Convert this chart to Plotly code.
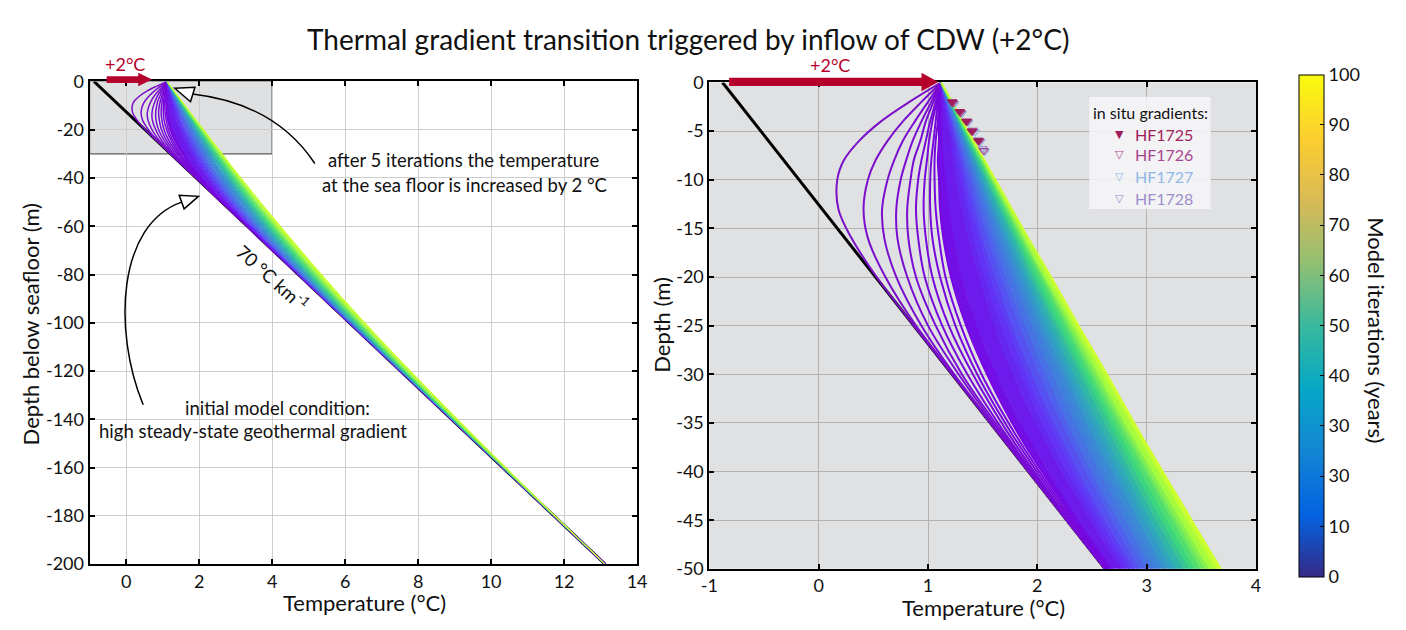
import plotly.graph_objects as go
from plotly.colors import sample_colorscale

W, H = 1406, 630

# ---------------- data ----------------
# depth below seafloor (m) at which each model profile is sampled
DEPTH = [0, -2, -4, -6, -8, -10, -13, -16, -20, -25, -30, -36, -43, -50,
         -60, -75, -90, -110, -135, -165, -200]

# years after the +2 degC step (model iteration - 5)
YEARS = [1, 2, 3, 4, 5, 6, 7, 8, 9, 10, 12, 14, 16, 18, 20, 23, 26, 29, 32,
         35, 39, 43, 47, 52, 57, 62, 68, 74, 81, 88, 95]

# temperature profiles (degC), one row per entry of YEARS, sampled at DEPTH
PROFILES = [
    [1.12, 0.83, 0.57, 0.37, 0.23, 0.17, 0.18, 0.30, 0.53, 0.87, 1.22, 1.64, 2.13, 2.62, 3.32, 4.37, 5.42, 6.82, 8.57, 10.67, 13.12],
    [1.12, 0.94, 0.77, 0.63, 0.52, 0.45, 0.41, 0.45, 0.61, 0.89, 1.23, 1.64, 2.13, 2.62, 3.32, 4.37, 5.42, 6.82, 8.57, 10.67, 13.12],
    [1.12, 1.00, 0.88, 0.77, 0.69, 0.63, 0.58, 0.60, 0.71, 0.94, 1.24, 1.65, 2.13, 2.62, 3.32, 4.37, 5.42, 6.82, 8.57, 10.67, 13.12],
    [1.12, 1.03, 0.94, 0.86, 0.80, 0.75, 0.71, 0.72, 0.81, 1.00, 1.28, 1.66, 2.13, 2.62, 3.32, 4.37, 5.42, 6.82, 8.57, 10.67, 13.12],
    [1.12, 1.05, 0.98, 0.93, 0.87, 0.84, 0.81, 0.82, 0.89, 1.07, 1.31, 1.68, 2.14, 2.62, 3.32, 4.37, 5.42, 6.82, 8.57, 10.67, 13.12],
    [1.12, 1.07, 1.02, 0.98, 0.94, 0.91, 0.89, 0.91, 0.97, 1.13, 1.36, 1.70, 2.15, 2.63, 3.32, 4.37, 5.42, 6.82, 8.57, 10.67, 13.12],
    [1.12, 1.08, 1.04, 1.01, 0.99, 0.97, 0.96, 0.98, 1.04, 1.19, 1.41, 1.73, 2.16, 2.63, 3.32, 4.37, 5.42, 6.82, 8.57, 10.67, 13.12],
    [1.12, 1.09, 1.07, 1.05, 1.03, 1.02, 1.02, 1.04, 1.11, 1.25, 1.45, 1.76, 2.18, 2.64, 3.32, 4.37, 5.42, 6.82, 8.57, 10.67, 13.12],
    [1.12, 1.10, 1.09, 1.07, 1.06, 1.06, 1.07, 1.10, 1.16, 1.30, 1.49, 1.79, 2.20, 2.65, 3.33, 4.37, 5.42, 6.82, 8.57, 10.67, 13.12],
    [1.12, 1.11, 1.10, 1.10, 1.09, 1.10, 1.11, 1.14, 1.21, 1.35, 1.54, 1.82, 2.22, 2.66, 3.33, 4.37, 5.42, 6.82, 8.57, 10.67, 13.12],
    [1.12, 1.12, 1.13, 1.13, 1.14, 1.16, 1.19, 1.23, 1.30, 1.44, 1.62, 1.89, 2.26, 2.69, 3.34, 4.37, 5.42, 6.82, 8.57, 10.67, 13.12],
    [1.12, 1.15, 1.17, 1.20, 1.22, 1.25, 1.30, 1.36, 1.46, 1.60, 1.77, 2.02, 2.37, 2.76, 3.38, 4.38, 5.42, 6.82, 8.57, 10.67, 13.12],
    [1.12, 1.15, 1.18, 1.22, 1.25, 1.29, 1.35, 1.41, 1.51, 1.66, 1.84, 2.08, 2.42, 2.80, 3.40, 4.39, 5.42, 6.82, 8.57, 10.67, 13.12],
    [1.12, 1.16, 1.20, 1.24, 1.28, 1.32, 1.38, 1.46, 1.56, 1.72, 1.89, 2.14, 2.47, 2.84, 3.43, 4.40, 5.43, 6.82, 8.57, 10.67, 13.12],
    [1.12, 1.16, 1.21, 1.25, 1.30, 1.34, 1.42, 1.49, 1.61, 1.76, 1.94, 2.19, 2.51, 2.88, 3.46, 4.42, 5.43, 6.82, 8.57, 10.67, 13.12],
    [1.12, 1.17, 1.22, 1.27, 1.32, 1.38, 1.45, 1.54, 1.66, 1.83, 2.01, 2.26, 2.58, 2.93, 3.50, 4.44, 5.44, 6.82, 8.57, 10.67, 13.12],
    [1.12, 1.17, 1.23, 1.29, 1.34, 1.40, 1.49, 1.58, 1.71, 1.88, 2.07, 2.31, 2.63, 2.99, 3.54, 4.46, 5.45, 6.83, 8.57, 10.67, 13.12],
    [1.12, 1.18, 1.24, 1.30, 1.37, 1.43, 1.53, 1.62, 1.76, 1.94, 2.13, 2.38, 2.70, 3.05, 3.59, 4.50, 5.47, 6.83, 8.57, 10.67, 13.12],
    [1.12, 1.19, 1.25, 1.32, 1.38, 1.45, 1.55, 1.66, 1.80, 1.99, 2.19, 2.44, 2.76, 3.11, 3.64, 4.53, 5.49, 6.84, 8.57, 10.67, 13.12],
    [1.12, 1.19, 1.26, 1.33, 1.40, 1.47, 1.58, 1.69, 1.84, 2.03, 2.24, 2.49, 2.82, 3.16, 3.69, 4.57, 5.51, 6.85, 8.58, 10.67, 13.12],
    [1.12, 1.20, 1.27, 1.34, 1.42, 1.49, 1.60, 1.72, 1.88, 2.08, 2.29, 2.55, 2.88, 3.22, 3.75, 4.61, 5.55, 6.87, 8.58, 10.67, 13.12],
    [1.12, 1.20, 1.28, 1.35, 1.43, 1.51, 1.63, 1.75, 1.91, 2.12, 2.33, 2.60, 2.93, 3.27, 3.80, 4.65, 5.58, 6.88, 8.59, 10.67, 13.12],
    [1.12, 1.20, 1.28, 1.36, 1.44, 1.53, 1.65, 1.78, 1.94, 2.16, 2.38, 2.65, 2.98, 3.33, 3.85, 4.70, 5.61, 6.90, 8.60, 10.67, 13.12],
    [1.12, 1.20, 1.29, 1.37, 1.46, 1.54, 1.67, 1.80, 1.97, 2.19, 2.42, 2.70, 3.03, 3.38, 3.91, 4.75, 5.65, 6.93, 8.61, 10.68, 13.12],
    [1.12, 1.21, 1.29, 1.38, 1.47, 1.56, 1.69, 1.82, 2.00, 2.23, 2.46, 2.74, 3.08, 3.43, 3.96, 4.80, 5.69, 6.95, 8.62, 10.68, 13.12],
    [1.12, 1.21, 1.30, 1.39, 1.48, 1.57, 1.71, 1.84, 2.03, 2.26, 2.49, 2.78, 3.13, 3.48, 4.01, 4.84, 5.73, 6.99, 8.64, 10.69, 13.12],
    [1.12, 1.21, 1.30, 1.40, 1.49, 1.58, 1.72, 1.86, 2.05, 2.28, 2.52, 2.81, 3.16, 3.52, 4.05, 4.89, 5.77, 7.01, 8.65, 10.69, 13.12],
    [1.12, 1.22, 1.31, 1.40, 1.50, 1.59, 1.73, 1.87, 2.06, 2.31, 2.55, 2.84, 3.20, 3.56, 4.09, 4.93, 5.81, 7.04, 8.67, 10.70, 13.12],
    [1.12, 1.22, 1.31, 1.41, 1.51, 1.60, 1.75, 1.90, 2.09, 2.34, 2.59, 2.89, 3.25, 3.61, 4.15, 4.99, 5.86, 7.09, 8.70, 10.72, 13.12],
    [1.12, 1.22, 1.32, 1.41, 1.51, 1.61, 1.76, 1.91, 2.11, 2.35, 2.61, 2.91, 3.27, 3.64, 4.18, 5.02, 5.89, 7.12, 8.72, 10.72, 13.12],
    [1.12, 1.22, 1.32, 1.42, 1.52, 1.62, 1.77, 1.92, 2.13, 2.38, 2.64, 2.94, 3.31, 3.68, 4.23, 5.07, 5.94, 7.16, 8.76, 10.74, 13.12],
]

# initial steady-state profile (70 degC/km)
INITIAL_TEMP = [-0.88, 13.12]
INITIAL_DEPTH = [0, -200]

# in situ gradient measurements (right panel)
HF1725_T = [1.22, 1.29, 1.35, 1.40, 1.46]
HF1725_D = [-2.0, -3.0, -4.0, -5.0, -6.0]
HF1726_T = [1.23, 1.30, 1.36, 1.41, 1.47, 1.51]
HF1726_D = [-2.1, -3.1, -4.0, -5.0, -6.0, -7.0]
HF1727_T = [1.24, 1.31, 1.37, 1.43, 1.48, 1.52]
HF1727_D = [-2.2, -3.2, -4.1, -5.1, -6.1, -7.1]
HF1728_T = [1.22, 1.29, 1.36, 1.41, 1.46, 1.50]
HF1728_D = [-2.0, -3.0, -4.0, -4.9, -5.9, -6.8]

CB_TICKVALS = [0, 10, 20, 30, 40, 50, 60, 70, 80, 90, 100]
CB_TICKTEXT = ["0", "10", "30", "30", "40", "50", "60", "70", "80", "90", "100"]

LEFT_XTICKS = [0, 2, 4, 6, 8, 10, 12, 14]
LEFT_YTICKS = [0, -20, -40, -60, -80, -100, -120, -140, -160, -180, -200]
RIGHT_XTICKS = [-1, 0, 1, 2, 3, 4]
RIGHT_YTICKS = [0, -5, -10, -15, -20, -25, -30, -35, -40, -45, -50]

# ---------------- styles ----------------
FONT = "Lato, 'Open Sans', sans-serif"
RED = "#b5002c"
CURVE_SCALE = [
    [0.00, "rgb(122,16,200)"],
    [0.10, "rgb(118,5,226)"],
    [0.17, "rgb(100,45,245)"],
    [0.24, "rgb(85,85,242)"],
    [0.32, "rgb(65,125,222)"],
    [0.44, "rgb(46,166,189)"],
    [0.60, "rgb(60,215,125)"],
    [0.85, "rgb(165,251,62)"],
    [1.00, "rgb(205,255,48)"],
]
PARULA = [
    [0.000, "#352a87"], [0.125, "#0363e1"], [0.250, "#1485d4"],
    [0.375, "#06a7c6"], [0.500, "#38b99e"], [0.625, "#92bf73"],
    [0.750, "#d9ba56"], [0.875, "#fcce2e"], [1.000, "#f9fb0e"],
]
FILL_FROM_YEAR = 12


def px(x):
    return x / W


def py(y):
    return 1 - y / H


def tick_text(vals):
    return [str(v) for v in vals]


COLORS = [sample_colorscale(CURVE_SCALE, [(t - 1) / 94.0])[0] for t in YEARS]

fig = go.Figure()

for xa, ya, lw_early, lw_late in [("x", "y", 1.5, 1.0), ("x2", "y2", 2.0, 1.4)]:
    fig.add_trace(go.Scatter(x=INITIAL_TEMP, y=INITIAL_DEPTH, mode="lines",
                             line=dict(color="black", width=3),
                             xaxis=xa, yaxis=ya, showlegend=False, hoverinfo="skip"))
    # colour bands between successive profiles
    for k in range(1, len(YEARS)):
        if YEARS[k] < FILL_FROM_YEAR:
            continue
        fig.add_trace(go.Scatter(
            x=PROFILES[k] + PROFILES[k - 1][::-1], y=DEPTH + DEPTH[::-1],
            mode="lines", fill="toself", fillcolor=COLORS[k],
            line=dict(width=0, color=COLORS[k]),
            xaxis=xa, yaxis=ya, showlegend=False, hoverinfo="skip"))
    # profile lines
    for k, (t, prof) in enumerate(zip(YEARS, PROFILES)):
        fig.add_trace(go.Scatter(
            x=prof, y=DEPTH, mode="lines",
            line=dict(color=COLORS[k], width=lw_late if t >= FILL_FROM_YEAR else lw_early,
                      shape="spline", smoothing=1.0),
            xaxis=xa, yaxis=ya, showlegend=False, hoverinfo="skip"))

# in situ markers
for T, D, sym, col in [
    (HF1728_T, HF1728_D, "triangle-down-open", "#9d8fcc"),
    (HF1727_T, HF1727_D, "triangle-down-open", "#8fb8e8"),
    (HF1726_T, HF1726_D, "triangle-down-open", "#a8458f"),
    (HF1725_T, HF1725_D, "triangle-down", "#a01d5c"),
]:
    fig.add_trace(go.Scatter(x=T, y=D, mode="markers", xaxis="x2", yaxis="y2",
                             marker=dict(symbol=sym, size=8, color=col,
                                         line=dict(color=col, width=1.2)),
                             showlegend=False, hoverinfo="skip"))

# colorbar carrier
fig.add_trace(go.Scatter(
    x=[10], y=[10], mode="markers", xaxis="x2", yaxis="y2", showlegend=False,
    hoverinfo="skip",
    marker=dict(size=1, opacity=0, color=[0], cmin=0, cmax=100, colorscale=PARULA,
                showscale=True,
                colorbar=dict(x=px(1308), xanchor="left", y=py(585), yanchor="bottom",
                              len=520 / H, lenmode="fraction", thickness=25,
                              thicknessmode="pixels", outlinewidth=1, outlinecolor="black",
                              tickvals=CB_TICKVALS, ticktext=CB_TICKTEXT,
                              ticks="inside", ticklen=4, tickcolor="black",
                              tickfont=dict(size=18, color="#111"), xpad=0, ypad=0))))

axis_common = dict(showline=True, linecolor="black", linewidth=2, mirror="ticks",
                   ticks="inside", ticklen=5, tickwidth=1.5, tickcolor="black",
                   zeroline=False, showgrid=True, gridwidth=1,
                   tickfont=dict(size=18, color="#111"))

fig.update_layout(
    width=W, height=H, margin=dict(l=0, r=0, t=0, b=0),
    paper_bgcolor="white", plot_bgcolor="white",
    font=dict(family=FONT, color="#111"),
    xaxis=dict(domain=[px(81.7), px(636.7)], range=[-1, 14], anchor="y",
               tickvals=LEFT_XTICKS, ticktext=tick_text(LEFT_XTICKS),
               gridcolor="#cdcdcd", **axis_common),
    yaxis=dict(domain=[py(572), py(72)], range=[-200, 0], anchor="x",
               tickvals=LEFT_YTICKS, ticktext=tick_text(LEFT_YTICKS),
               gridcolor="#cdcdcd", **axis_common),
    xaxis2=dict(domain=[px(710), px(1264)], range=[-1, 4], anchor="y2",
                tickvals=RIGHT_XTICKS, ticktext=tick_text(RIGHT_XTICKS),
                gridcolor="#b3b3b3", **axis_common),
    yaxis2=dict(domain=[py(577), py(73)], range=[-50, 0], anchor="x2",
                tickvals=RIGHT_YTICKS, ticktext=tick_text(RIGHT_YTICKS),
                gridcolor="#b3b3b3", **axis_common),
)

shapes = []
# right panel grey background
shapes.append(dict(type="rect", xref="x2 domain", yref="y2 domain", x0=0, x1=1, y0=0, y1=1,
                   fillcolor="#e0e1e3", line=dict(width=0), layer="below"))
# zoom box in left panel
shapes.append(dict(type="rect", xref="x", yref="y", x0=-1, x1=4, y0=-30, y1=0,
                   fillcolor="#dfe0e2", line=dict(color="#5a5a5a", width=1.2), layer="below"))
# red +2 degC arrows
for (s0, s1, h0, tip, yc, sh, hh) in [(99, 133, 131, 145, 70, 3.5, 7), (730, 928, 925, 942, 72.5, 4.3, 9.5)]:
    shapes.append(dict(type="rect", xref="paper", yref="paper", x0=px(s0), x1=px(s1),
                       y0=py(yc + sh), y1=py(yc - sh), fillcolor=RED, line=dict(width=0)))
    shapes.append(dict(type="path", xref="paper", yref="paper",
                       path=f"M {px(h0)},{py(yc - hh)} L {px(tip)},{py(yc)} L {px(h0)},{py(yc + hh)} Z",
                       fillcolor=RED, line=dict(width=0)))
# curved annotation arrows
shapes.append(dict(type="path", xref="paper", yref="paper",
                   path=f"M {px(310)},{py(157)} Q {px(270)},{py(95)} {px(186)},{py(85)}",
                   line=dict(color="black", width=1.5)))
shapes.append(dict(type="path", xref="paper", yref="paper",
                   path=f"M {px(168)},{py(79)} L {px(188.5)},{py(78)} L {px(184)},{py(93)} Z",
                   fillcolor="white", line=dict(color="black", width=1.5)))
shapes.append(dict(type="path", xref="paper", yref="paper",
                   path=f"M {px(136)},{py(407)} C {px(105)},{py(330)} {px(110)},{py(220)} {px(175)},{py(197)}",
                   line=dict(color="black", width=1.5)))
shapes.append(dict(type="path", xref="paper", yref="paper",
                   path=f"M {px(192)},{py(191)} L {px(177.5)},{py(204)} L {px(172.5)},{py(190)} Z",
                   fillcolor="white", line=dict(color="black", width=1.5)))
# legend box
shapes.append(dict(type="rect", xref="paper", yref="paper", x0=px(1095), x1=px(1218),
                   y0=py(204), y1=py(88), fillcolor="rgba(246,246,248,0.85)", line=dict(width=0)))
fig.update_layout(shapes=shapes)


def ann(text, x, y, size=17, color="#111", angle=0, xanchor="center", family=None):
    d = dict(text=text, x=px(x), y=py(y), xref="paper", yref="paper", showarrow=False,
             xanchor=xanchor, yanchor="middle", textangle=angle,
             font=dict(size=size, color=color))
    if family:
        d["font"]["family"] = family
    return d


annotations = [
    ann("Thermal gradient transition triggered by inflow of CDW (+2°C)", 688, 28, size=28),
    ann("+2°C", 118, 54, size=18, color=RED),
    ann("+2°C", 832, 55, size=18, color=RED),
    ann("Temperature (°C)", 360, 612, size=22),
    ann("Temperature (°C)", 988, 617, size=22),
    ann("Depth below seafloor (m)", 22, 324, size=22, angle=-90),
    ann("Depth (m)", 662, 325, size=22, angle=-90),
    ann("Model iterations (years)", 1386, 330, size=22, angle=90),
    ann("after 5 iterations the temperature", 461, 153, size=18.5),
    ann("at the sea floor is increased by 2 °C", 462, 179, size=18.5),
    ann("initial model condition:", 272, 410, size=18.5),
    ann("high steady-state geothermal gradient", 247, 434, size=18.5),
    ann("70 °C km<sup>-1</sup>", 268, 275, size=18.5, angle=42),
    ann("in situ gradients:", 1157, 104, size=16),
    ann("▼", 1126, 127, size=11, color="#a01d5c", family="DejaVu Sans"),
    ann("▽", 1126, 148, size=11, color="#a8458f", family="DejaVu Sans"),
    ann("▽", 1126, 170, size=11, color="#8fb8e8", family="DejaVu Sans"),
    ann("▽", 1126, 193, size=11, color="#9d8fcc", family="DejaVu Sans"),
    ann("HF1725", 1139, 127, size=16, color="#a01d5c", xanchor="left"),
    ann("HF1726", 1139, 148, size=16, color="#a8458f", xanchor="left"),
    ann("HF1727", 1139, 170, size=16, color="#8fb8e8", xanchor="left"),
    ann("HF1728", 1139, 193, size=16, color="#9d8fcc", xanchor="left"),
]
fig.update_layout(annotations=annotations)

fig.write_html("out.html")
